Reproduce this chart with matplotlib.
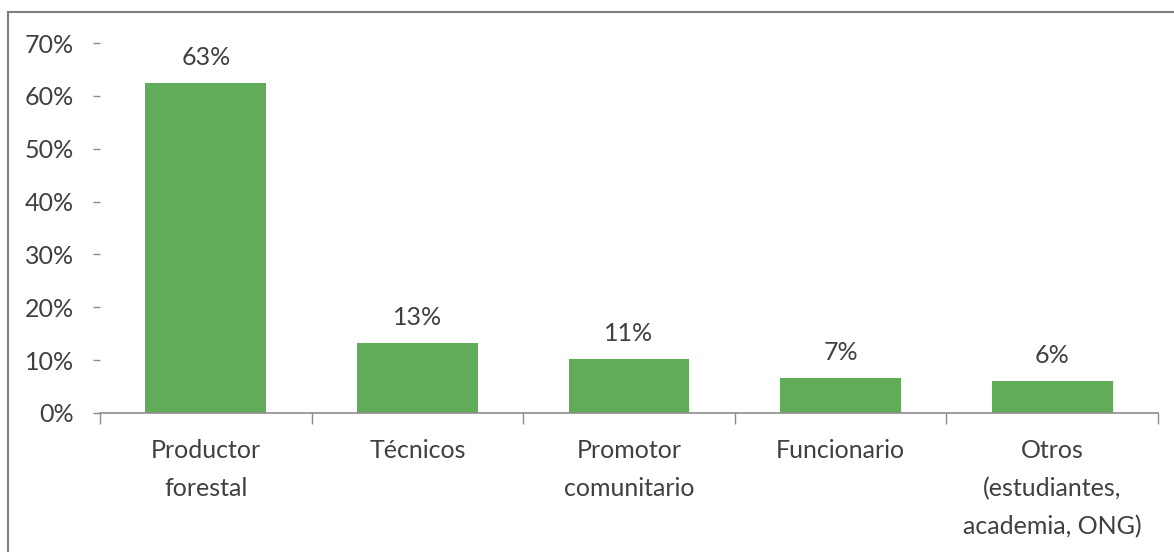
import numpy as np
import matplotlib.pyplot as plt
from matplotlib.lines import Line2D
from matplotlib.ticker import FuncFormatter, FixedLocator

# ============================================================
# DATA
# ============================================================

categories = ['Productor\nforestal', 'Técnicos', 'Promotor\ncomunitario',
              'Funcionario', 'Otros\n(estudiantes,\nacademia, ONG)']
shares     = [0.624, 0.133, 0.102, 0.066, 0.061]
bar_labels = ['63%', '13%', '11%', '7%', '6%']
y_ticks    = [0.0, 0.1, 0.2, 0.3, 0.4, 0.5, 0.6, 0.7]

# ============================================================
# STYLE
# ============================================================

bar_color  = '#60AC58'
text_color = '#404040'
axis_color = '#8C8C8C'
font_size  = 18

plt.rcParams['font.family'] = ['Lato', 'DejaVu Sans']

fig = plt.figure(figsize=(11.74, 5.52), dpi=100)
ax = fig.add_axes([100 / 1174, 1 - 413 / 552, 1058 / 1174, 370 / 552])

x = np.arange(len(categories))
ax.bar(x, shares, width=0.57, color=bar_color, zorder=2)

for xi, v, lab in zip(x, shares, bar_labels):
    ax.annotate(lab, (xi, v), xytext=(0, 10), textcoords='offset points',
                ha='center', va='bottom', fontsize=font_size, color=text_color)

ax.set_xlim(-0.5, len(categories) - 0.5)
ax.set_ylim(0, 0.7)

# y axis: ticks only, no spine
ax.set_yticks(y_ticks)
ax.yaxis.set_major_formatter(FuncFormatter(lambda v, _: f'{v * 100:.0f}%'))
ax.tick_params(axis='y', direction='out', length=5, width=1,
               color=axis_color, pad=14, labelsize=font_size, labelcolor=text_color)

# x axis: labels centred, tick marks between categories
ax.set_xticks(x)
ax.set_xticklabels(categories, linespacing=1.75)
ax.tick_params(axis='x', which='major', length=0, pad=19,
               labelsize=font_size, labelcolor=text_color)
ax.xaxis.set_minor_locator(FixedLocator(np.arange(-0.5, len(categories), 1.0)))
ax.tick_params(axis='x', which='minor', direction='out', length=8,
               width=1, color=axis_color)

for side in ['left', 'right', 'top']:
    ax.spines[side].set_visible(False)
ax.spines['bottom'].set_color(axis_color)
ax.spines['bottom'].set_linewidth(1.2)
ax.spines['bottom'].set_zorder(3)

# chart-area border (only top and left visible in the crop)
fig.add_artist(Line2D([8 / 1174, 1], [1 - 12 / 552, 1 - 12 / 552],
                      transform=fig.transFigure, color='#808080', linewidth=1.5))
fig.add_artist(Line2D([8 / 1174, 8 / 1174], [0, 1 - 12 / 552],
                      transform=fig.transFigure, color='#808080', linewidth=1.5))

plt.savefig('out.png', dpi=100)
